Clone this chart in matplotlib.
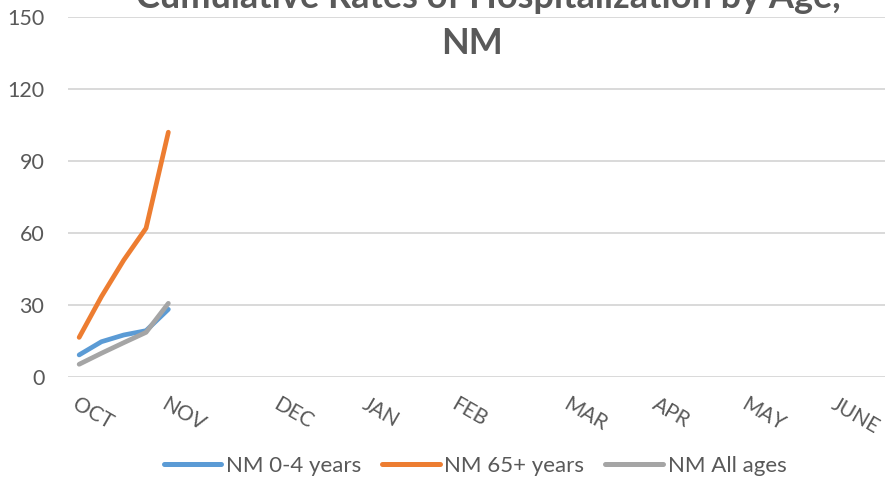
## Import Required Library

import matplotlib.pyplot as plt

## Create Data

weeks = [0, 1, 2, 3, 4]
age_0_4 = [9.2, 14.7, 17.5, 19.3, 28.2]
age_65_plus = [16.5, 33.5, 48.7, 62, 102]
all_ages = [5.3, 9.9, 14.3, 18.6, 30.7]

month_weeks = [0, 4, 9, 13, 17, 22, 26, 30, 34]
month_labels = ["OCT", "NOV", "DEC", "JAN", "FEB", "MAR", "APR", "MAY", "JUNE"]

y_ticks = [0, 30, 60, 90, 120, 150]

## Colours

blue = "#5B9BD5"
orange = "#ED7D31"
gray = "#A5A5A5"
text_gray = "#595959"
grid_gray = "#D9D9D9"

plt.rcParams['font.family'] = ['Lato', 'DejaVu Sans']

## Figure and axes

fig = plt.figure(figsize=(8.85, 4.79), dpi=100)
ax = fig.add_axes([68 / 885, 102 / 479, 1 - 68 / 885, 360 / 479])

## Plot Data

ax.plot(weeks, age_0_4, color=blue, lw=3.4, solid_capstyle="round",
        solid_joinstyle="round", label="NM 0-4 years", zorder=3)
ax.plot(weeks, age_65_plus, color=orange, lw=3.4, solid_capstyle="round",
        solid_joinstyle="round", label="NM 65+ years", zorder=3)
ax.plot(weeks, all_ages, color=gray, lw=3.4, solid_capstyle="round",
        solid_joinstyle="round", label="NM All ages", zorder=3)

## Axes styling

ax.set_xlim(-0.5, (885 - 68) / 22.3 - 0.5)
ax.set_ylim(0, 150)
ax.set_yticks(y_ticks)
ax.yaxis.grid(True, color=grid_gray, lw=1.4)
ax.set_axisbelow(True)
for s in ax.spines.values():
    s.set_visible(False)
ax.tick_params(axis="y", length=0, pad=17, labelsize=15.5, labelcolor=text_gray)

ax.set_xticks(month_weeks)
ax.set_xticklabels(month_labels)
ax.tick_params(axis="x", length=0, pad=12, labelsize=15, labelcolor=text_gray)
plt.setp(ax.get_xticklabels(), rotation=-30, ha="left", va="top",
         rotation_mode="anchor")

## Title (top line is clipped by the frame, as in the original)

fig.text(488 / 885, 1 - 8 / 479, "Cumulative Rates of Hospitalization by Age,",
         ha="center", va="baseline", fontsize=26, fontweight="bold", color=text_gray)
fig.text(472 / 885, 1 - 54 / 479, "NM",
         ha="center", va="baseline", fontsize=26, fontweight="bold", color=text_gray)

## Legend

leg = fig.legend(loc="center", bbox_to_anchor=(475 / 885, 1 - 466 / 479), ncol=3,
                 frameon=False, fontsize=16, handlelength=2.6, handletextpad=0.2,
                 columnspacing=0.95, labelcolor=text_gray)
for h in leg.get_lines():
    h.set_linewidth(3.6)

## Save

fig.savefig("out.png", dpi=100)
